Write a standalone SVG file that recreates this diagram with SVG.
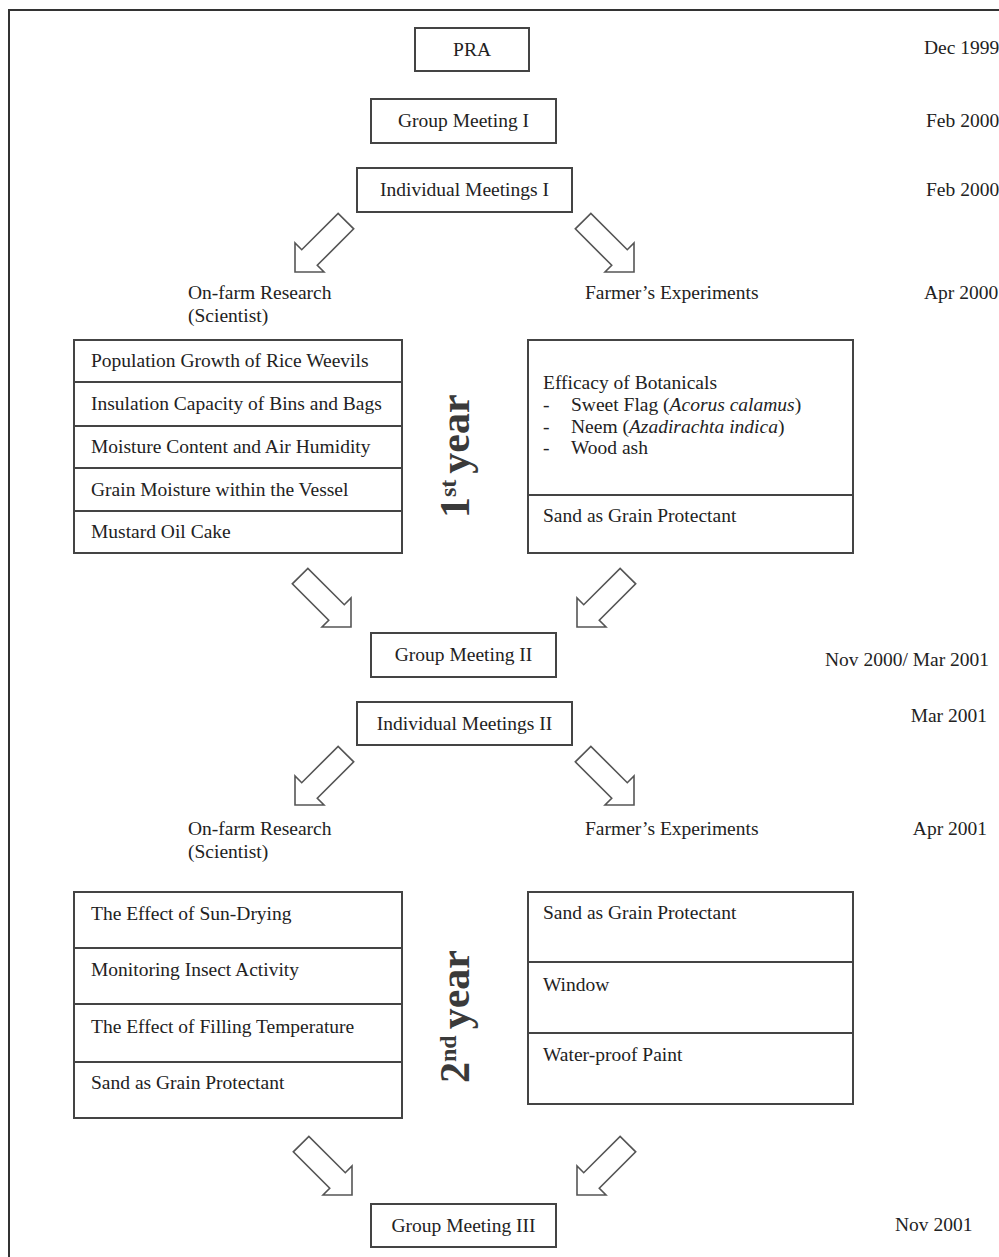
<svg xmlns="http://www.w3.org/2000/svg" xmlns:xlink="http://www.w3.org/1999/xlink" width="999" height="1257" viewBox="0 0 999 1257">
<style>
  text { font-family: "Liberation Serif", "Times New Roman", serif; font-size: 19.5px; fill: #222; }
  .c { text-anchor: middle; }
  .e { text-anchor: end; }
  .it { font-style: italic; }
  .box { fill: #fff; stroke: #444; stroke-width: 2; }
  .div { stroke: #444; stroke-width: 2; }
  .yr { font-weight: bold; font-size: 42px; fill: #3a3a3a; }
  .arr { fill: #fff; stroke: #555; stroke-width: 1.6; stroke-linejoin: miter; }
</style>
<defs>
  <path id="blk" d="M0,0 L-20.5,-20.5 L-20.5,-11 L-72,-11 L-72,11 L-20.5,11 L-20.5,20.5 Z"/>
</defs>
<rect width="999" height="1257" fill="#fff"/>
<path d="M9,1257 L9,10 L999,10" fill="none" stroke="#333" stroke-width="2"/>

<g id="pra"><rect class="box" x="415" y="28" width="114" height="43"/><text class="c" x="472" y="56">PRA</text></g>
<g id="gm1"><rect class="box" x="371" y="99" width="185" height="44"/><text class="c" x="463.5" y="127">Group Meeting I</text></g>
<g id="im1"><rect class="box" x="357" y="168" width="215" height="44"/><text class="c" x="464.5" y="196">Individual Meetings I</text></g>

<g id="dates">
  <text x="924" y="54">Dec 1999</text>
  <text x="926" y="127">Feb 2000</text>
  <text x="926" y="196">Feb 2000</text>
  <text x="924" y="299">Apr 2000</text>
  <text x="825" y="666">Nov 2000/ Mar 2001</text>
  <text class="e" x="987" y="722">Mar 2001</text>
  <text class="e" x="987" y="835">Apr 2001</text>
  <text x="895" y="1231">Nov 2001</text>
</g>

<g id="labels1">
  <text x="188" y="299">On-farm Research</text>
  <text x="188" y="322">(Scientist)</text>
  <text x="585" y="299">Farmer’s Experiments</text>
</g>

<g id="research1">
  <rect class="box" x="74" y="340" width="328" height="213"/>
  <line class="div" x1="74" y1="382" x2="402" y2="382"/>
  <line class="div" x1="74" y1="426" x2="402" y2="426"/>
  <line class="div" x1="74" y1="468" x2="402" y2="468"/>
  <line class="div" x1="74" y1="511" x2="402" y2="511"/>
  <text x="91" y="367">Population Growth of Rice Weevils</text>
  <text x="91" y="410">Insulation Capacity of Bins and Bags</text>
  <text x="91" y="453">Moisture Content and Air Humidity</text>
  <text x="91" y="496">Grain Moisture within the Vessel</text>
  <text x="91" y="538">Mustard Oil Cake</text>
</g>

<g id="farmer1">
  <rect class="box" x="528" y="340" width="325" height="213"/>
  <line class="div" x1="528" y1="495" x2="853" y2="495"/>
  <text x="543" y="389">Efficacy of Botanicals</text>
  <text x="543" y="411">-</text><text x="571" y="411">Sweet Flag (<tspan class="it">Acorus calamus</tspan>)</text>
  <text x="543" y="433">-</text><text x="571" y="433">Neem (<tspan class="it">Azadirachta indica</tspan>)</text>
  <text x="543" y="454">-</text><text x="571" y="454">Wood ash</text>
  <text x="543" y="522">Sand as Grain Protectant</text>
</g>

<g id="year1"><text class="yr" transform="translate(469,518) rotate(-90)">1<tspan font-size="24" dy="-13">st</tspan><tspan dx="6" dy="13">year</tspan></text></g>

<g id="gm2"><rect class="box" x="371" y="633" width="185" height="44"/><text class="c" x="463.5" y="661">Group Meeting II</text></g>
<g id="im2"><rect class="box" x="357" y="702" width="215" height="43"/><text class="c" x="464.5" y="730">Individual Meetings II</text></g>

<g id="labels2">
  <text x="188" y="835">On-farm Research</text>
  <text x="188" y="858">(Scientist)</text>
  <text x="585" y="835">Farmer’s Experiments</text>
</g>

<g id="research2">
  <rect class="box" x="74" y="892" width="328" height="226"/>
  <line class="div" x1="74" y1="948" x2="402" y2="948"/>
  <line class="div" x1="74" y1="1004" x2="402" y2="1004"/>
  <line class="div" x1="74" y1="1062" x2="402" y2="1062"/>
  <text x="91" y="920">The Effect of Sun-Drying</text>
  <text x="91" y="976">Monitoring Insect Activity</text>
  <text x="91" y="1033">The Effect of Filling Temperature</text>
  <text x="91" y="1089">Sand as Grain Protectant</text>
</g>

<g id="farmer2">
  <rect class="box" x="528" y="892" width="325" height="212"/>
  <line class="div" x1="528" y1="962" x2="853" y2="962"/>
  <line class="div" x1="528" y1="1033" x2="853" y2="1033"/>
  <text x="543" y="919">Sand as Grain Protectant</text>
  <text x="543" y="991">Window</text>
  <text x="543" y="1061">Water-proof Paint</text>
</g>

<g id="year2"><text class="yr" transform="translate(469,1083) rotate(-90)">2<tspan font-size="24" dy="-13">nd</tspan><tspan dx="6" dy="13">year</tspan></text></g>

<g id="gm3"><rect class="box" x="371" y="1204" width="185" height="43"/><text class="c" x="463.5" y="1232">Group Meeting III</text></g>

<g id="connectors">
  <use xlink:href="#blk" class="arr" transform="translate(295,272) rotate(135)"/>
  <use xlink:href="#blk" class="arr" transform="translate(634,272) rotate(45)"/>
  <use xlink:href="#blk" class="arr" transform="translate(351,627) rotate(45)"/>
  <use xlink:href="#blk" class="arr" transform="translate(577,627) rotate(135)"/>
  <use xlink:href="#blk" class="arr" transform="translate(295,805) rotate(135)"/>
  <use xlink:href="#blk" class="arr" transform="translate(634,805) rotate(45)"/>
  <use xlink:href="#blk" class="arr" transform="translate(352,1195) rotate(45)"/>
  <use xlink:href="#blk" class="arr" transform="translate(577,1195) rotate(135)"/>
</g>
</svg>
